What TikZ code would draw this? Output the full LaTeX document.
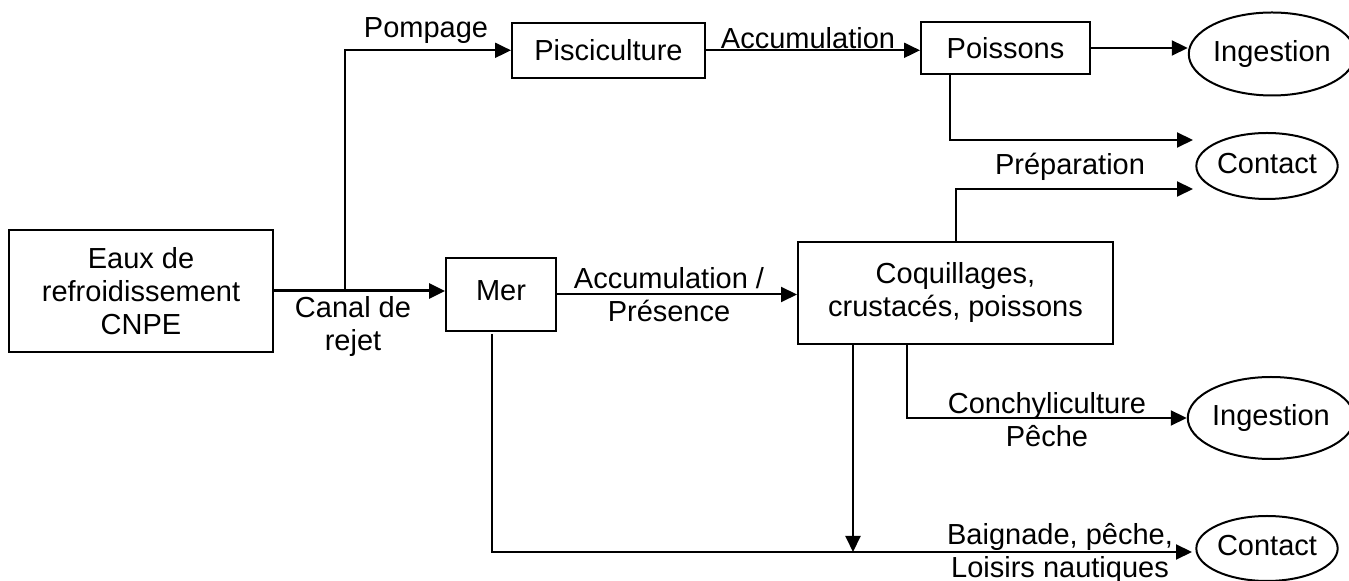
\documentclass[tikz,border=0pt]{standalone}
\usepackage{fontspec}
\setmainfont{Liberation Sans}
\usetikzlibrary{arrows.meta,shapes.geometric,calc}

\tikzset{
  box/.style={draw, line width=1pt, inner sep=0pt, align=center},
  oval/.style={draw, ellipse, line width=1pt, inner sep=0pt},
  flow/.style={line width=1pt, -{Triangle[length=8pt,width=7.5pt]}},
  lbl/.style={inner sep=0pt, align=center}
}

\begin{document}
\begin{tikzpicture}[x=0.5pt,y=-0.5pt,font=\fontsize{14.5}{16.5}\selectfont]
\useasboundingbox (0,0) rectangle (1349,581);

% boxes
\node[box,minimum width=132pt,minimum height=61pt] (eaux) at (141,291) {Eaux de\\refroidissement\\CNPE};
\node[box,minimum width=55pt,minimum height=36.5pt] (mer) at (501,294.5) {\raisebox{3.5pt}{Mer}};
\node[box,minimum width=96.5pt,minimum height=27.5pt] (pisci) at (608.5,50.3) {Pisciculture};
\node[box,minimum width=84.5pt,minimum height=26pt] (poissons) at (1005.5,48) {Poissons};
\node[box,minimum width=157.5pt,minimum height=51pt] (coq) at (955.5,293) {Coquillages,\\crustacés, poissons};

% exposure
\node[oval,minimum width=74pt,minimum height=41.5pt] (ing1) at (1272,54) {\raisebox{1.5pt}{Ingestion}};
\node[oval,minimum width=69pt,minimum height=33pt] (cont1) at (1267,166) {\raisebox{3pt}{Contact}\hspace{8pt}};
\node[oval,minimum width=74.5pt,minimum height=41pt] (ing2) at (1271,418) {\raisebox{1.5pt}{Ingestion}};
\node[oval,minimum width=69.5pt,minimum height=32.5pt] (cont2) at (1267,548.5) {\raisebox{3pt}{Contact}\hspace{8pt}};

% labels
\node[lbl] (pompage) at (426,31) {Pompage};
\node[lbl] (accum) at (808,38) {Accumulation};
\node[lbl] (canal) at (353,327) {Canal de\\rejet};
\node[lbl] (presence) at (669,295) {Accumulation /\\Présence};
\node[lbl] (prep) at (1070,167) {Préparation};
\node[lbl] (conchy) at (1047,420) {Conchyliculture\\Pêche};
\node[lbl] (baignade) at (1060,553) {Baignade, pêche,\\Loisirs nautiques};

% connectors
\coordinate (split) at (345,291);
\coordinate (fishcontact) at (1193,140);
\coordinate (prepcontact) at (1193,189);
\coordinate (seacontact) at (1192,552);
\coordinate (coqdrop) at ($(coq.south west)+(56,0)$);

\draw[flow,line width=1.5pt] (eaux.east) -- (eaux.east -| mer.west);
\draw[flow] (split) |- (pisci.west);
\draw[flow] (pisci.east) -- (pisci.east -| poissons.west);
\draw[flow] (poissons.east) -- (poissons.east -| ing1.west);
\draw[flow] ($(poissons.south west)+(30,0)$) |- (fishcontact);
\draw[flow] (coq.north) |- (prepcontact);
\draw[flow] (mer.east) -- (mer.east -| coq.west);
\draw[flow] ($(mer.south west)+(47,2)$) |- (seacontact);
\draw[flow] (coqdrop) -- (coqdrop |- seacontact);
\draw[flow] ($(coq.south west)+(110,0)$) |- (ing2.west);
\end{tikzpicture}
\end{document}
